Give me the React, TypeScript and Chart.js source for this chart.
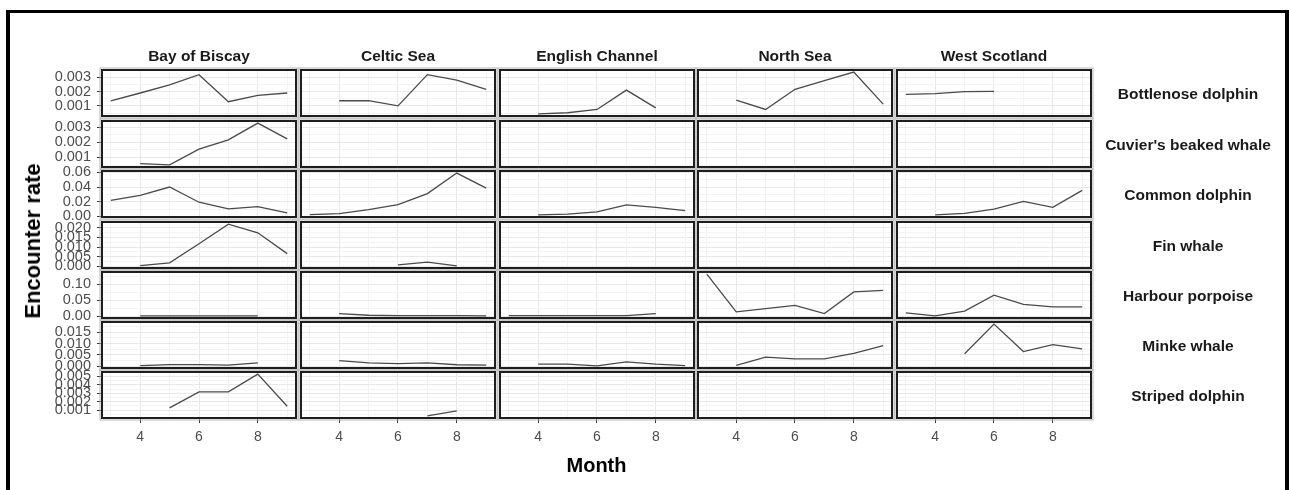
import React, { useEffect, useRef } from "react";
import { Chart, registerables } from "chart.js";

Chart.register(...registerables);

// ---------- data ----------
const months = [3, 4, 5, 6, 7, 8, 9];
const xMajorTicks = [4, 6, 8];
const xMinorTicks = [3, 5, 7, 9];

const regions = ["Bay of Biscay", "Celtic Sea", "English Channel", "North Sea", "West Scotland"];
const speciesNames = [
  "Bottlenose dolphin",
  "Cuvier's beaked whale",
  "Common dolphin",
  "Fin whale",
  "Harbour porpoise",
  "Minke whale",
  "Striped dolphin",
];

const N = null;
const EMPTY = [N, N, N, N, N, N, N];

// rows: Bay of Biscay, Celtic Sea, English Channel, North Sea, West Scotland; columns: months 3..9
const bottlenoseDolphin = [
  [0.00135, 0.0019, 0.00247, 0.00318, 0.00129, 0.00173, 0.0019],
  [N, 0.00136, 0.00136, 0.001, 0.00318, 0.0028, 0.00215],
  [N, 0.00044, 0.00052, 0.00075, 0.0021, 0.00086, N],
  [N, 0.0014, 0.00075, 0.00216, 0.00277, 0.00336, 0.00112],
  [0.0018, 0.00186, 0.002, 0.00202, N, N, N],
];
const cuviersBeakedWhale = [
  [N, 0.0006, 0.00051, 0.00155, 0.00216, 0.00327, 0.00223],
  EMPTY,
  EMPTY,
  EMPTY,
  EMPTY,
];
const commonDolphin = [
  [0.0217, 0.0285, 0.04, 0.0193, 0.0102, 0.0134, 0.0047],
  [0.0023, 0.0037, 0.0092, 0.016, 0.031, 0.059, 0.0386],
  [N, 0.002, 0.003, 0.006, 0.0157, 0.0124, 0.0079],
  EMPTY,
  [N, 0.002, 0.004, 0.01, 0.0203, 0.0124, 0.0354],
];
const finWhale = [
  [N, 0.0004, 0.0019, 0.0117, 0.0218, 0.0173, 0.0066],
  [N, N, N, 0.0008, 0.0022, 0.0003, N],
  EMPTY,
  EMPTY,
  EMPTY,
];
const harbourPorpoise = [
  [N, 0.001, 0.001, 0.001, 0.001, 0.001, N],
  [N, 0.008, 0.003, 0.002, 0.002, 0.002, 0.001],
  [0.002, 0.002, 0.002, 0.002, 0.002, 0.008, N],
  [0.132, 0.0136, 0.024, 0.034, 0.0085, 0.076, 0.081],
  [0.0104, 0.001, 0.016, 0.066, 0.037, 0.029, 0.029],
];
const minkeWhale = [
  [N, 0.0003, 0.0008, 0.0008, 0.0005, 0.0015, N],
  [N, 0.0025, 0.0015, 0.0012, 0.0015, 0.0007, 0.0005],
  [N, 0.001, 0.001, 0.0002, 0.002, 0.001, 0.0003],
  [N, 0.0004, 0.004, 0.0033, 0.0033, 0.0057, 0.0091],
  [N, N, 0.0055, 0.0185, 0.0065, 0.0095, 0.0077],
];
const stripedDolphin = [
  [N, N, 0.00125, 0.00316, 0.00316, 0.00528, 0.00145],
  [N, N, N, N, 0.0003, 0.0009, N],
  EMPTY,
  EMPTY,
  EMPTY,
];

const speciesData = [
  bottlenoseDolphin,
  cuviersBeakedWhale,
  commonDolphin,
  finWhale,
  harbourPorpoise,
  minkeWhale,
  stripedDolphin,
];

// y tick labels per species row
const bottlenoseTicks = [0.001, 0.002, 0.003];
const cuvierTicks = [0.001, 0.002, 0.003];
const commonTicks = [0, 0.02, 0.04, 0.06];
const finTicks = [0, 0.005, 0.01, 0.015, 0.02];
const harbourTicks = [0, 0.05, 0.1];
const minkeTicks = [0, 0.005, 0.01, 0.015];
const stripedTicks = [0.001, 0.002, 0.003, 0.004, 0.005];
const yTicks = [bottlenoseTicks, cuvierTicks, commonTicks, finTicks, harbourTicks, minkeTicks, stripedTicks];
const yDecimals = [3, 3, 2, 3, 2, 3, 3];

// ---------- layout ----------
const FONT = "'Liberation Sans', Arial, Helvetica, sans-serif";
const colLeft = [102, 301, 500, 698, 897];
const rowTop = [70, 121, 171, 222, 272, 322, 372];
const PW = 194;
const PH = 46;
const PAD = 12;
const YAXW = 64;
const XAXH = 34;
const LINE = "#4a4a4a";

function rowRange(rows: (number | null)[][]): [number, number] {
  const vals = rows.flat().filter((v) => v !== null) as number[];
  const lo = Math.min(...vals);
  const hi = Math.max(...vals);
  const e = (hi - lo) * 0.05;
  return [lo - e, hi + e];
}

function yTickObjects(major: number[], lo: number, hi: number) {
  const step = major[1] - major[0];
  const out: { value: number; major: boolean }[] = [];
  const minors: number[] = [major[0] - step / 2];
  for (let i = 0; i < major.length - 1; i++) minors.push((major[i] + major[i + 1]) / 2);
  minors.push(major[major.length - 1] + step / 2);
  minors.forEach((v) => {
    if (v >= lo && v <= hi) out.push({ value: v, major: false });
  });
  major.forEach((v) => {
    if (v >= lo - 1e-12 && v <= hi + 1e-12) out.push({ value: v, major: true });
  });
  out.sort((a, b) => a.value - b.value);
  return out;
}

const borderPlugin = {
  id: "panelBorder",
  afterDraw(chart: any) {
    const { ctx, chartArea } = chart;
    const { left, top, right, bottom } = chartArea;
    ctx.save();
    ctx.strokeStyle = "#b5b5b5";
    ctx.lineWidth = 1;
    ctx.strokeRect(left - 2, top - 2, right - left + 4, bottom - top + 4);
    ctx.strokeStyle = "#1e1e1e";
    ctx.lineWidth = 2;
    ctx.strokeRect(left, top, right - left, bottom - top);
    ctx.restore();
  },
};

function Panel({ row, col }: { row: number; col: number }) {
  const ref = useRef<HTMLCanvasElement | null>(null);
  const isLeft = col === 0;
  const isBottom = row === speciesNames.length - 1;
  const cw = PW + PAD * 2 + (isLeft ? YAXW : 0);
  const ch = PH + PAD * 2 + (isBottom ? XAXH : 0);
  const left = colLeft[col] - PAD - (isLeft ? YAXW : 0);
  const top = rowTop[row] - PAD;

  useEffect(() => {
    const vals = speciesData[row][col];
    const [lo, hi] = rowRange(speciesData[row]);
    const yt = yTickObjects(yTicks[row], lo, hi);
    const dec = yDecimals[row];
    const chart = new Chart(ref.current as HTMLCanvasElement, {
      type: "line",
      data: {
        datasets: [
          {
            data: months.map((m, i) => ({ x: m, y: vals[i] })) as any,
            borderColor: LINE,
            borderWidth: 1.3,
            pointRadius: 0,
            tension: 0,
            spanGaps: false,
            fill: false,
          },
        ],
      },
      options: {
        animation: false,
        responsive: false,
        maintainAspectRatio: false,
        events: [],
        layout: { padding: PAD },
        plugins: {
          legend: { display: false },
          tooltip: { enabled: false },
          title: { display: false },
        },
        scales: {
          x: {
            type: "linear",
            min: 2.7,
            max: 9.3,
            border: { display: false },
            afterBuildTicks: (s: any) => {
              const t = [
                ...xMinorTicks.map((v) => ({ value: v, major: false })),
                ...xMajorTicks.map((v) => ({ value: v, major: true })),
              ];
              t.sort((a, b) => a.value - b.value);
              s.ticks = t;
            },
            afterFit: (s: any) => {
              s.height = isBottom ? XAXH : 0;
              s.paddingLeft = 0;
              s.paddingRight = 0;
            },
            grid: {
              color: (c: any) => (c.tick && c.tick.major ? "#e8e8e8" : "#f3f3f3"),
              lineWidth: 1,
              drawTicks: isBottom,
              tickLength: 5,
              tickColor: (c: any) => (c.tick && c.tick.major ? "#333333" : "rgba(0,0,0,0)"),
            },
            ticks: {
              display: isBottom,
              autoSkip: false,
              maxRotation: 0,
              padding: 6,
              color: "#4d4d4d",
              font: { family: FONT, size: 14 },
              callback: (v: any, i: number, ticks: any[]) => (ticks[i].major ? String(v) : ""),
            },
          },
          y: {
            type: "linear",
            min: lo,
            max: hi,
            border: { display: false },
            afterBuildTicks: (s: any) => {
              s.ticks = yt.map((t) => ({ ...t }));
            },
            afterFit: (s: any) => {
              s.width = isLeft ? YAXW : 0;
              s.paddingTop = 0;
              s.paddingBottom = 0;
            },
            grid: {
              color: (c: any) => (c.tick && c.tick.major ? "#e8e8e8" : "#f3f3f3"),
              lineWidth: 1,
              drawTicks: isLeft,
              tickLength: 5,
              tickColor: (c: any) => (c.tick && c.tick.major ? "#333333" : "rgba(0,0,0,0)"),
            },
            ticks: {
              display: isLeft,
              autoSkip: false,
              padding: 6,
              color: "#4d4d4d",
              font: { family: FONT, size: 14.5 },
              callback: (v: any, i: number, ticks: any[]) =>
                ticks[i].major ? Number(v).toFixed(dec) : "",
            },
          },
        },
      },
      plugins: [borderPlugin],
    });
    return () => chart.destroy();
  }, [row, col]);

  return (
    <canvas
      ref={ref}
      width={cw}
      height={ch}
      style={{ position: "absolute", left, top, width: cw, height: ch }}
    />
  );
}

export default function App() {
  const panels: React.ReactNode[] = [];
  for (let r = 0; r < speciesNames.length; r++) {
    for (let c = 0; c < regions.length; c++) {
      panels.push(<Panel key={`${r}-${c}`} row={r} col={c} />);
    }
  }
  const stripStyle: React.CSSProperties = {
    position: "absolute",
    transform: "translate(-50%, -50%)",
    whiteSpace: "nowrap",
    fontFamily: FONT,
    fontWeight: 700,
    fontSize: 15.5,
    color: "#1a1a1a",
    lineHeight: 1,
  };
  return (
    <div
      style={{
        position: "fixed",
        left: 0,
        top: 0,
        width: 1289,
        height: 490,
        background: "#fff",
        overflow: "hidden",
        fontFamily: FONT,
      }}
    >
      <div
        style={{
          position: "absolute",
          left: 6,
          top: 10,
          width: 1283,
          height: 500,
          boxSizing: "border-box",
          borderLeft: "4px solid #000",
          borderTop: "3px solid #000",
          borderRight: "4px solid #000",
        }}
      />
      {panels}
      {regions.map((name, c) => (
        <div key={name} style={{ ...stripStyle, left: colLeft[c] + PW / 2, top: 56 }}>
          {name}
        </div>
      ))}
      {speciesNames.map((name, r) => (
        <div key={name} style={{ ...stripStyle, left: 1188, top: rowTop[r] + PH / 2 + 1 }}>
          {name}
        </div>
      ))}
      <div
        style={{
          ...stripStyle,
          fontSize: 20,
          color: "#000",
          left: (colLeft[0] + colLeft[4] + PW) / 2,
          top: 465,
        }}
      >
        Month
      </div>
      <div
        style={{
          ...stripStyle,
          fontSize: 22,
          color: "#000",
          left: 33,
          top: 241,
          transform: "translate(-50%, -50%) rotate(-90deg)",
        }}
      >
        Encounter rate
      </div>
    </div>
  );
}
